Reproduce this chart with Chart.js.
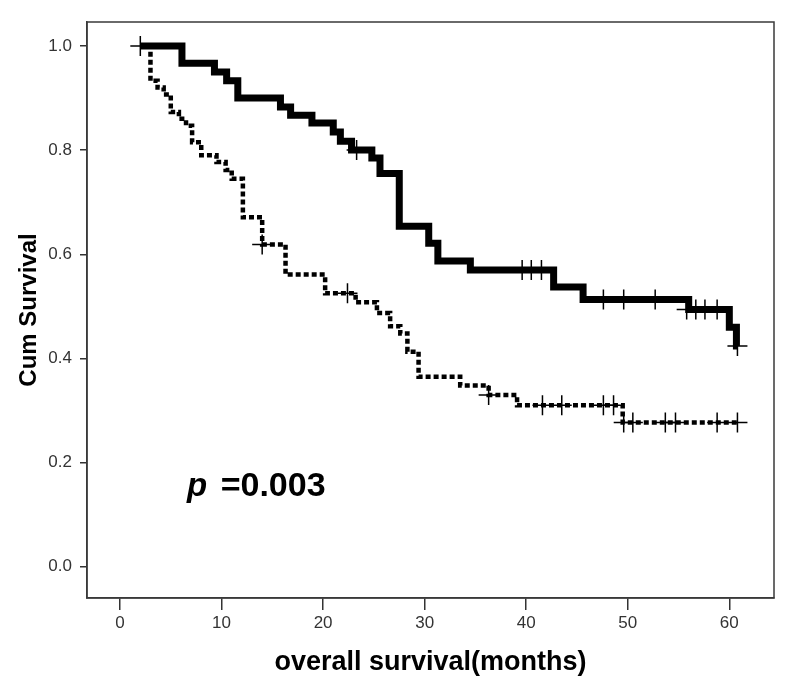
<!DOCTYPE html>
<html>
<head>
<meta charset="utf-8">
<script src="https://cdn.jsdelivr.net/npm/chart.js@4"></script>
<style>
  html, body { margin: 0; padding: 0; background: #fff; }
</style>
</head>
<body>
<canvas id="km-chart" width="792" height="697"></canvas>
<script>
// event times (months) and survival after each event
const solidTimes = [2, 6.1, 9.3, 10.5, 11.6, 15.8, 16.8, 18.9, 21, 21.7, 22.8, 24.8, 25.6, 27.5, 30.4, 31.3, 34.5, 42.7, 45.6, 56, 60, 60.7, 60.8]
const solidSurv  = [1.0, 0.967, 0.95, 0.933, 0.9, 0.883, 0.867, 0.852, 0.835, 0.817, 0.8, 0.785, 0.755, 0.654, 0.621, 0.587, 0.57, 0.537, 0.513, 0.494, 0.46, 0.424, 0.424]
const solidCensorTimes = [2, 23.3, 39.6, 40.5, 41.5, 47.6, 49.6, 52.7, 55.8, 56.7, 57.6, 58.8, 60.8]
const solidCensorSurv  = [1.0, 0.8, 0.57, 0.57, 0.57, 0.513, 0.513, 0.513, 0.494, 0.494, 0.494, 0.494, 0.424]

const dottedTimes = [2, 3, 3.7, 4.3, 5, 5.8, 6.5, 7.1, 8, 9.5, 10.4, 11, 12.1, 14, 16.3, 20.2, 23.2, 25.3, 26.6, 27.6, 28.3, 29.4, 33.5, 36.3, 39.1, 49.5, 60.8]
const dottedSurv  = [1.0, 0.933, 0.92, 0.907, 0.873, 0.86, 0.847, 0.815, 0.79, 0.777, 0.762, 0.745, 0.671, 0.619, 0.561, 0.525, 0.508, 0.487, 0.462, 0.448, 0.413, 0.365, 0.348, 0.33, 0.31, 0.277, 0.277]
const dottedCensorTimes = [14, 22.4, 36.3, 41.6, 43.5, 47.6, 48.6, 49.6, 50.5, 53.7, 54.7, 58.8, 60.8]
const dottedCensorSurv  = [0.619, 0.525, 0.33, 0.31, 0.31, 0.31, 0.31, 0.277, 0.277, 0.277, 0.277, 0.277, 0.277]

const xTicks = [0, 10, 20, 30, 40, 50, 60]
const yTicks = [0.0, 0.2, 0.4, 0.6, 0.8, 1.0]
const pLabel = { x: 6.6, y: 0.136, italic: 'p', rest: ' =0.003' }

const toPoints = (xs, ys) => xs.map((x, i) => ({ x, y: ys[i] }))
const fontFamily = '"Liberation Sans", Arial, sans-serif'

const frameBox = {
  id: 'frameBox',
  afterDraw(chart) {
    const { ctx, chartArea: a } = chart
    ctx.save()
    ctx.strokeStyle = '#3a3a3a'
    ctx.lineWidth = 1.5
    ctx.strokeRect(a.left, a.top, a.right - a.left, a.bottom - a.top)
    ctx.restore()
  }
}

const pValueText = {
  id: 'pValueText',
  afterDatasetsDraw(chart) {
    const { ctx, scales } = chart
    const px = scales.x.getPixelForValue(pLabel.x),
          py = scales.y.getPixelForValue(pLabel.y)
    ctx.save()
    ctx.fillStyle = '#000'
    ctx.textBaseline = 'alphabetic'
    ctx.font = 'italic bold 33px ' + fontFamily
    ctx.fillText(pLabel.italic, px, py)
    const w = ctx.measureText(pLabel.italic).width
    ctx.font = 'bold 34px ' + fontFamily
    ctx.fillText(pLabel.rest, px + w + 4, py)
    ctx.restore()
  }
}

window.addEventListener('DOMContentLoaded', () => {
  const canvas = document.getElementById('km-chart')

  new Chart(canvas.getContext('2d'), {
    type: 'line',
    data: {
      datasets: [{
        label: 'censored 1',
        data: toPoints(solidCensorTimes, solidCensorSurv),
        showLine: false,
        pointStyle: 'cross',
        pointRadius: 10,
        pointBorderWidth: 1.5,
        pointBorderColor: '#000'
      }, {
        label: 'censored 2',
        data: toPoints(dottedCensorTimes, dottedCensorSurv),
        showLine: false,
        pointStyle: 'cross',
        pointRadius: 10,
        pointBorderWidth: 1.5,
        pointBorderColor: '#000'
      }, {
        label: 'group 1',
        data: toPoints(solidTimes, solidSurv),
        stepped: 'before',
        borderColor: '#000',
        borderWidth: 7,
        pointRadius: 0,
        fill: false
      }, {
        label: 'group 2',
        data: toPoints(dottedTimes, dottedSurv),
        stepped: 'before',
        borderColor: '#000',
        borderWidth: 4.5,
        borderDash: [5, 3],
        pointRadius: 0,
        fill: false
      }]
    },
    options: {
      responsive: false,
      animation: false,
      devicePixelRatio: 1,
      layout: { padding: { top: 22, right: 18, left: 0, bottom: 0 } },
      plugins: {
        legend: { display: false },
        tooltip: { enabled: false }
      },
      scales: {
        x: {
          type: 'linear',
          min: -3.25,
          max: 64.4,
          afterFit: scale => { scale.height = 99 },
          afterBuildTicks: scale => { scale.ticks = xTicks.map(value => ({ value })) },
          grid: { drawOnChartArea: false, tickLength: 12, color: '#333', lineWidth: 1.5 },
          border: { color: '#3a3a3a', width: 1.5 },
          ticks: {
            color: '#333',
            padding: 3,
            font: { family: fontFamily, size: 17 },
            callback: v => String(v)
          },
          title: {
            display: true,
            text: 'overall survival(months)',
            color: '#000',
            font: { family: fontFamily, size: 27, weight: 'bold' },
            padding: { top: 0, bottom: 18 }
          }
        },
        y: {
          type: 'linear',
          min: -0.06,
          max: 1.046,
          afterFit: scale => { scale.width = 87 },
          afterBuildTicks: scale => { scale.ticks = yTicks.map(value => ({ value })) },
          grid: { drawOnChartArea: false, tickLength: 7, color: '#333', lineWidth: 1.5 },
          border: { color: '#3a3a3a', width: 1.5 },
          ticks: {
            color: '#333',
            padding: 8,
            font: { family: fontFamily, size: 17 },
            callback: v => v.toFixed(1)
          },
          title: {
            display: true,
            text: 'Cum Survival',
            color: '#000',
            font: { family: fontFamily, size: 24, weight: 'bold' },
            padding: { top: 15, bottom: 0 }
          }
        }
      }
    },
    plugins: [frameBox, pValueText]
  })
})
</script>
</body>
</html>
